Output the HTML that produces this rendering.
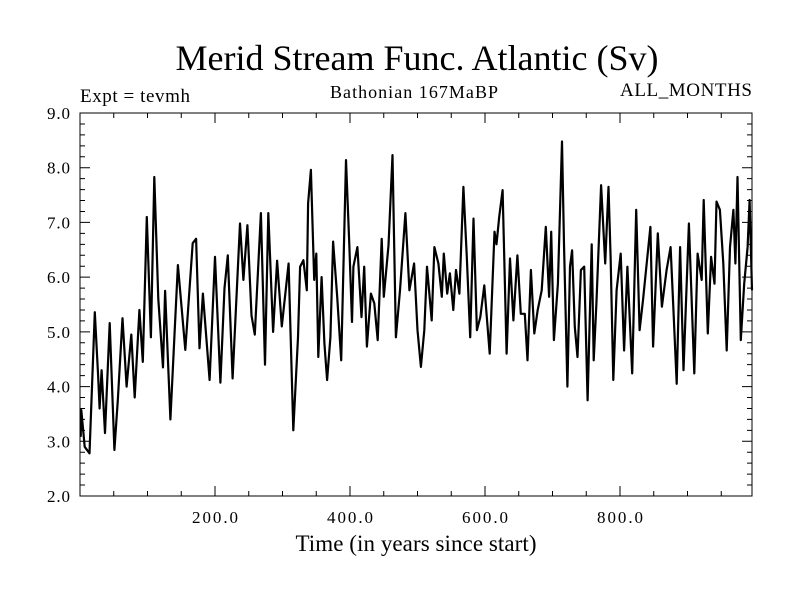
<!DOCTYPE html>
<html><head><meta charset="utf-8"><style>
html,body{margin:0;padding:0;background:#fff;width:800px;height:600px;overflow:hidden}
svg text{font-family:"Liberation Serif",serif;fill:#000}
</style></head><body>
<svg id="chart" width="800" height="600">
<text x="417" y="70" font-size="36" text-anchor="middle">Merid Stream Func. Atlantic (Sv)</text>
<text x="80" y="102" font-size="19" textLength="110">Expt = tevmh</text>
<text x="414" y="98" font-size="18" text-anchor="middle" textLength="168">Bathonian 167MaBP</text>
<text x="752" y="96" font-size="19" text-anchor="end" textLength="132">ALL_MONTHS</text>
<text x="416" y="551" font-size="23" text-anchor="middle" textLength="241">Time (in years since start)</text>
<g id="axes"></g>
<rect x="80" y="113" width="672" height="383" fill="none" stroke="#000" stroke-width="1"/>
</svg>
<script>
const years = [1,2,7,14,22,27,29,32,37,44,51,56,63,69,76,81,88,93,99,105,110,116,123,126,134,140,145,156,167,172,177,182,192,200,208,214,219,226,237,242,248,254,259,268,274,279,286,292,299,309,316,323,
326,331,336,338,342,347,350,353,358,362,366,371,375,381,387,394,399,403,405,411,417,421,425,431,436,441,447,450,457,463,468,474,482,488,495,500,505,510,514,521,525,531,536,539,544,548,553,557,562,568,573,578,583,588,593,599,607,614,617,621,626,632,637,642,648,653,
659,663,668,673,678,684,690,695,698,702,708,714,717,722,726,729,733,737,742,747,752,758,761,765,772,778,783,786,790,795,801,806,811,818,824,829,834,845,849,856,862,869,875,879,884,889,894,902,910,915,921,924,930,935,940,943,948,953,958,963,968,971,974,979,984,989,992,996];
const values = [3.08,3.57,2.9,2.78,5.36,4.17,3.6,4.3,3.15,5.16,2.84,3.75,5.25,4.0,4.95,3.8,5.4,4.45,7.1,4.9,7.83,5.6,4.35,5.75,3.4,4.95,6.22,4.67,6.62,6.7,4.7,5.7,4.12,6.37,4.07,5.8,6.4,4.15,6.98,5.95,6.95,5.3,4.95,7.17,4.4,7.17,5.0,6.3,5.1,6.25,3.2,4.9,
6.19,6.31,5.76,7.35,7.96,5.95,6.43,4.54,6.0,4.79,4.12,4.9,6.65,5.64,4.48,8.14,6.6,5.18,6.19,6.55,5.27,6.19,4.73,5.7,5.52,4.85,6.7,5.64,6.58,8.23,4.9,5.76,7.17,5.76,6.25,5.03,4.36,5.03,6.19,5.21,6.55,6.25,5.64,6.43,5.7,6.07,5.4,6.13,5.7,7.65,6.37,4.9,7.07,5.03,5.27,5.85,4.6,6.83,6.6,7.1,7.59,4.6,6.34,5.21,6.4,5.33,
5.33,4.48,6.13,4.97,5.4,5.76,6.92,5.64,6.83,4.85,5.88,8.48,6.6,4.0,6.19,6.49,5.09,4.54,6.13,6.19,3.75,6.6,4.48,5.52,7.68,6.25,7.65,6.37,4.12,5.76,6.43,4.66,6.19,4.24,7.23,5.03,5.58,6.92,4.73,6.8,5.46,6.13,6.55,5.46,4.05,6.55,4.3,6.98,4.24,6.43,5.95,7.41,4.97,6.37,5.88,7.38,7.23,6.25,4.66,6.55,7.23,6.25,7.83,4.85,5.88,6.55,7.41,5.76];
const xTickLabels = ["200.0","400.0","600.0","800.0"];
const xTickValues = [200,400,600,800];
const yTickLabels = ["2.0","3.0","4.0","5.0","6.0","7.0","8.0","9.0"];
const yTickValues = [2,3,4,5,6,7,8,9];

const X0=80,X1=752,Y0=496,Y1=113;
const xs = v => X0 + v*0.675;
const ys = v => Y0 - (v-2)*(Y0-Y1)/7;
const NS="http://www.w3.org/2000/svg";
const g=document.getElementById('axes');
function mk(t,a){const e=document.createElementNS(NS,t);for(const k in a)e.setAttribute(k,a[k]);g.appendChild(e);return e;}
let d="";
for(let v=50;v<1000;v+=50){const x=xs(v);if(x>X1)break;const L=(v%200===0)?10:5;d+=`M${x} ${Y0}v${-L}M${x} ${Y1}v${L}`;}
for(let v=2;v<=9.001;v+=0.2){const y=ys(v);const L=(Math.abs(v-Math.round(v))<0.01)?10:5;d+=`M${X0} ${y}h${L}M${X1} ${y}h${-L}`;}
const tk=mk('path',{d:d,stroke:'#000','stroke-width':1,fill:'none'});


xTickValues.forEach((v,i)=>{const t=mk('text',{x:xs(v),y:523,'font-size':17,'text-anchor':'middle',textLength:46});t.textContent=xTickLabels[i];

});
yTickValues.forEach((v,i)=>{const t=mk('text',{x:70,y:ys(v)+6,'font-size':17,'text-anchor':'end',textLength:23});t.textContent=yTickLabels[i];

});
let p="";years.forEach((yr,i)=>{p+=(i?"L":"M")+Math.min(xs(yr),X1).toFixed(1)+" "+ys(values[i]).toFixed(1);});
const ln=mk('path',{d:p,stroke:'#000','stroke-width':2.2,fill:'none','stroke-linejoin':'round'});


</script>
</body></html>
